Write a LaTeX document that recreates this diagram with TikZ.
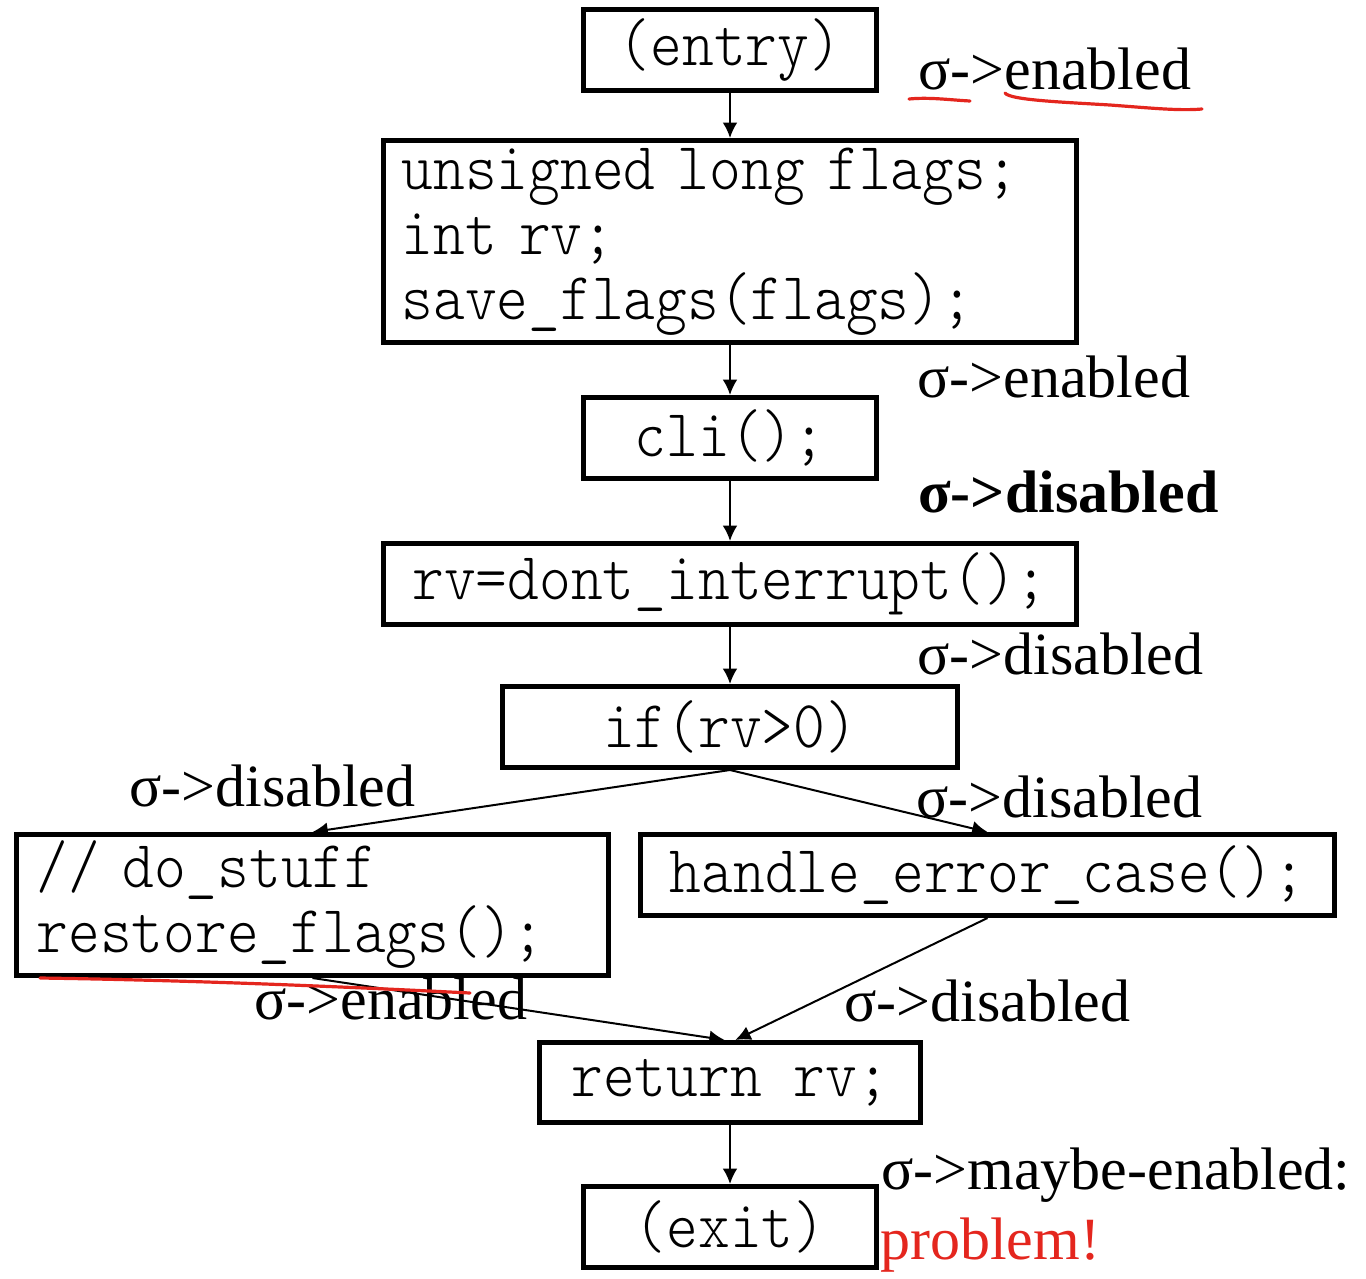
\documentclass[tikz,border=0pt]{standalone}
\usepackage{fontspec}
\setmainfont{Liberation Serif}
\setmonofont[FakeStretch=0.9]{Latin Modern Mono Light}
\usetikzlibrary{arrows.meta}
\definecolor{penred}{RGB}{228,38,30}
\tikzset{
  codebox/.style={draw, line width=3.75pt, inner sep=0pt, minimum width=219.75pt, minimum height=60.75pt,
    font=\fontsize{50.4}{48.75}\selectfont\ttfamily},
  flow/.style={line width=1.5pt, -{Latex[length=11.5pt,width=11pt]}},
  lab/.style={anchor=base west, inner sep=0pt, font=\fontsize{45}{50}\selectfont},
  ink/.style={penred, line width=2.4pt, line cap=round, line join=round}
}
\begin{document}
\begin{tikzpicture}[x=0.75pt,y=-0.75pt]
\useasboundingbox (0,0) rectangle (1366,1278);
% boxes
\node[codebox] (entry) at (730,50) {(entry)};
\node[codebox, minimum width=519.75pt, minimum height=151.5pt, text width=492.75pt, inner xsep=13.5pt, align=left] (decl) at (730,241.5) {unsigned long flags;\\int rv;\\save\_flags(flags);};
\node[codebox] (cli) at (730,438) {cli();};
\node[codebox, minimum width=519.75pt] (rv) at (730,584) {rv=dont\_interrupt();};
\node[codebox, minimum width=341.25pt] (if) at (730,727) {if(rv>0)};
\node[codebox, minimum width=444pt, minimum height=105.75pt, text width=414pt, inner xsep=15pt, align=left] (stuff) at (312.5,905) {// do\_stuff\\restore\_flags();};
\node[codebox, minimum width=520.5pt] (handle) at (987.5,875) {handle\_error\_case();};
\node[codebox, minimum width=285.75pt, minimum height=60pt] (ret) at (730,1082.5) {return rv;};
\node[codebox] (exit) at (730,1227) {(exit)};
% connectors
\draw[flow] (entry) -- (decl);
\draw[flow] (decl) -- (cli);
\draw[flow] (cli) -- (rv);
\draw[flow] (rv) -- (if);
\draw[flow] (if.south) -- (stuff.north);
\draw[flow] (if.south) -- (handle.north);
\draw[flow] (stuff.south) -- ([xshift=-4]ret.north);
\draw[flow] (handle.south) -- ([xshift=4]ret.north);
\draw[flow] (ret) -- (exit);
% labels
\node[lab] (l1) at (918,89) {σ->enabled};
\node[lab] (l2) at (917,397) {σ->enabled};
\node[lab, font=\fontsize{45}{50}\selectfont\bfseries] (l3) at (918,512) {σ->disabled};
\node[lab] (l4) at (917,674) {σ->disabled};
\node[lab] (l5) at (129,806) {σ->disabled};
\node[lab] (l6) at (916,817) {σ->disabled};
\node[lab] (l7) at (254,1019) {σ->enabled};
\node[lab] (l8) at (844,1021) {σ->disabled};
\node[lab] (l9) at (881,1189) {σ->maybe-enabled:};
\node[lab, text=penred] (l10) at (880,1259) {problem!};
% red pen marks
\draw[ink] (909,99) .. controls (930,97) and (950,100) .. (970,101);
\draw[ink] (1005,93) .. controls (1010,100) and (1060,102) .. (1110,105) .. controls (1150,108) and (1180,111) .. (1202,109);
\draw[ink] (40,978) .. controls (180,980) and (330,986) .. (470,993);
\end{tikzpicture}
\end{document}
